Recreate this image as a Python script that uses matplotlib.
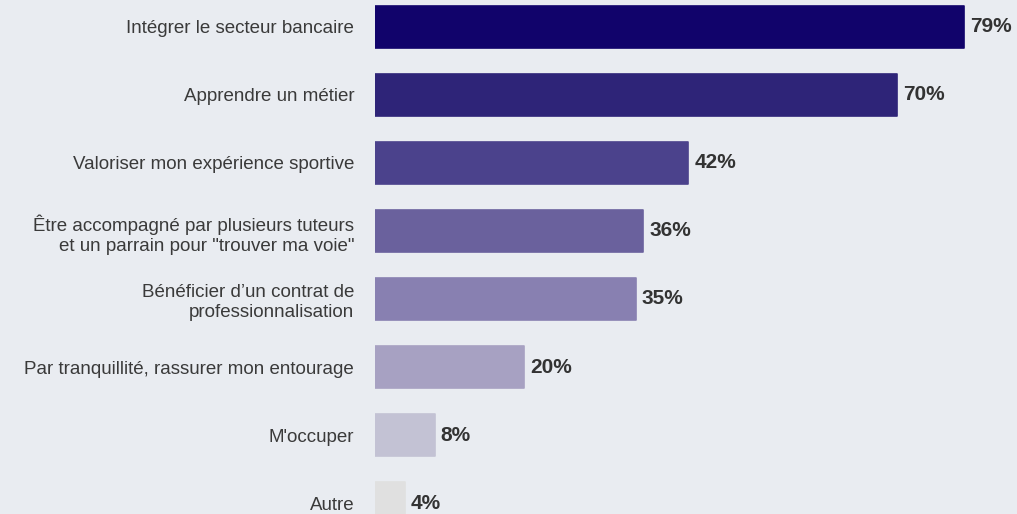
import matplotlib
matplotlib.use("Agg")
import matplotlib.pyplot as plt

# === Data === #
categories = [
    "Intégrer le secteur bancaire",
    "Apprendre un métier",
    "Valoriser mon expérience sportive",
    "Être accompagné par plusieurs tuteurs\net un parrain pour \"trouver ma voie\"",
    "Bénéficier d\u2019un contrat de\nprofessionnalisation",
    "Par tranquillité, rassurer mon entourage",
    "M'occuper",
    "Autre",
]
values = [79, 70, 42, 36, 35, 20, 8, 4]
bar_colors = ["#11036b", "#2e2478", "#4b428c", "#6a619d", "#8880b1",
              "#a7a1c2", "#c3c2d4", "#e0e0e0"]

bg = "#e9ecf1"
plt.rcParams['font.family'] = ['Liberation Sans', 'DejaVu Sans']

fig = plt.figure(figsize=(10.17, 5.14), dpi=100, facecolor=bg)
ax = fig.add_axes([375 / 1017, 0, 642 / 1017, 1])
ax.set_facecolor(bg)

pos = list(range(len(values)))
bars = ax.barh(pos, values, height=0.61, color=bar_colors,
               edgecolor=bar_colors, linewidth=1.2)
for b in bars:
    b.set_joinstyle('round')

# value labels at the end of each bar
for y, v in zip(pos, values):
    ax.text(v + 0.8, y, f"{v}%", va='center', ha='left',
            fontsize=15, fontweight='bold', color='#333333')

ax.set_xlim(0, 86.1)
ax.set_ylim(7.16, -0.394)
ax.set_yticks(pos)
ax.set_yticklabels(categories, fontsize=13.5, color='#3a3a3a',
                   linespacing=1.25)
ax.tick_params(axis='y', length=0, pad=15)
ax.set_xticks([])
for s in ax.spines.values():
    s.set_visible(False)

fig.savefig("out.png", dpi=100, facecolor=bg)
